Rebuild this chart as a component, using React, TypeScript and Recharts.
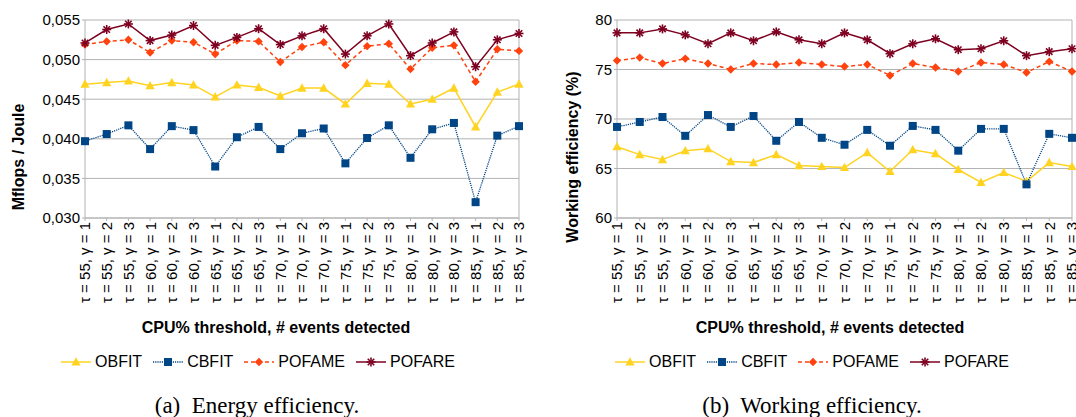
import React from 'react';
import {
  LineChart,
  Line,
  XAxis,
  YAxis,
  CartesianGrid,
  Legend,
  ReferenceLine,
} from 'recharts';

// categories: CPU% threshold (tau) x number of detected events (gamma)
const taus = [55, 60, 65, 70, 75, 80, 85];
const gammas = [1, 2, 3];
const categories = taus.flatMap((t) => gammas.map((g) => `τ = ${t}, γ = ${g}`));

// (a) energy efficiency, Mflops / Joule
const obfitEnergy = [0.0469, 0.0471, 0.0473, 0.0467, 0.0471, 0.0468, 0.0453, 0.0468, 0.0465, 0.0454, 0.0464, 0.0464, 0.0444, 0.0470, 0.0469, 0.0444, 0.0450, 0.0464, 0.0415, 0.0459, 0.0469];
const cbfitEnergy = [0.0397, 0.0406, 0.0417, 0.0387, 0.0416, 0.0411, 0.0365, 0.0402, 0.0415, 0.0387, 0.0407, 0.0413, 0.0369, 0.0401, 0.0417, 0.0376, 0.0412, 0.0420, 0.0320, 0.0404, 0.0416];
const pofameEnergy = [0.0519, 0.0523, 0.0525, 0.0509, 0.0524, 0.0522, 0.0507, 0.0524, 0.0523, 0.0497, 0.0516, 0.0522, 0.0493, 0.0517, 0.0520, 0.0488, 0.0515, 0.0518, 0.0472, 0.0513, 0.0511];
const pofareEnergy = [0.0521, 0.0538, 0.0545, 0.0524, 0.0531, 0.0543, 0.0518, 0.0528, 0.0539, 0.0519, 0.0530, 0.0539, 0.0507, 0.0530, 0.0545, 0.0505, 0.0521, 0.0535, 0.0491, 0.0525, 0.0533];
const energyTicks = [0.03, 0.035, 0.04, 0.045, 0.05, 0.055];

// (b) working efficiency, %
const obfitWork = [67.2, 66.4, 65.9, 66.8, 67.0, 65.7, 65.6, 66.4, 65.3, 65.2, 65.1, 66.6, 64.7, 66.9, 66.5, 64.9, 63.6, 64.6, 63.7, 65.6, 65.2];
const cbfitWork = [69.2, 69.7, 70.2, 68.3, 70.4, 69.2, 70.3, 67.8, 69.7, 68.1, 67.4, 68.9, 67.3, 69.3, 68.9, 66.8, 69.0, 69.0, 63.4, 68.5, 68.1];
const pofameWork = [75.9, 76.2, 75.6, 76.1, 75.6, 75.0, 75.6, 75.5, 75.7, 75.5, 75.3, 75.5, 74.4, 75.6, 75.2, 74.8, 75.7, 75.5, 74.7, 75.8, 74.8];
const pofareWork = [78.7, 78.7, 79.1, 78.5, 77.6, 78.7, 77.9, 78.8, 78.0, 77.6, 78.7, 78.0, 76.6, 77.6, 78.1, 77.0, 77.1, 77.9, 76.4, 76.8, 77.1];
const workTicks = [60, 65, 70, 75, 80];

const FONT = '"Liberation Sans", Arial, sans-serif';
const GRID = '#b3b3b3';

type Marker = 'triangle' | 'square' | 'diamond' | 'star';

const SERIES: Array<{ key: string; name: string; color: string; dash?: string; width: number; marker: Marker }> = [
  { key: 'obfit', name: 'OBFIT', color: '#ffd320', width: 1.5, marker: 'triangle' },
  { key: 'cbfit', name: 'CBFIT', color: '#004586', dash: '1.2 1', width: 1.3, marker: 'square' },
  { key: 'pofame', name: 'POFAME', color: '#ff420e', dash: '4 3', width: 1.5, marker: 'diamond' },
  { key: 'pofare', name: 'POFARE', color: '#7e0021', width: 1.5, marker: 'star' },
];

const buildRows = (values: Record<string, number[]>) =>
  categories.map((label, i) => {
    const row: Record<string, string | number> = { label };
    Object.keys(values).forEach((k) => {
      row[k] = values[k][i];
    });
    return row;
  });

const energyRows = buildRows({ obfit: obfitEnergy, cbfit: cbfitEnergy, pofame: pofameEnergy, pofare: pofareEnergy });
const workRows = buildRows({ obfit: obfitWork, cbfit: cbfitWork, pofame: pofameWork, pofare: pofareWork });

const MarkerShape = ({ cx, cy, type, color }: { cx: number; cy: number; type: Marker; color: string }) => {
  if (cx == null || cy == null) return null;
  switch (type) {
    case 'triangle':
      return <polygon points={`${cx},${cy - 4.8} ${cx - 4.6},${cy + 3.6} ${cx + 4.6},${cy + 3.6}`} fill={color} />;
    case 'square':
      return <rect x={cx - 4} y={cy - 4} width={8} height={8} fill={color} />;
    case 'diamond':
      return <polygon points={`${cx},${cy - 4.2} ${cx + 4.2},${cy} ${cx},${cy + 4.2} ${cx - 4.2},${cy}`} fill={color} />;
    default: {
      const r = 4.5;
      const d = r * 0.72;
      return (
        <g stroke={color} strokeWidth={1.6}>
          <line x1={cx - r} y1={cy} x2={cx + r} y2={cy} />
          <line x1={cx} y1={cy - r} x2={cx} y2={cy + r} />
          <line x1={cx - d} y1={cy - d} x2={cx + d} y2={cy + d} />
          <line x1={cx - d} y1={cy + d} x2={cx + d} y2={cy - d} />
        </g>
      );
    }
  }
};

const CategoryTick = ({ x, y, payload }: any) => (
  <g transform={`translate(${x},${y}) rotate(-90)`}>
    <text x={0} y={0} dy="0.36em" textAnchor="end" fill="#000" fontSize={15} fontFamily={FONT}>
      {payload.value}
    </text>
  </g>
);

const renderLegend = () => (
  <div
    style={{
      display: 'flex',
      justifyContent: 'center',
      alignItems: 'center',
      height: 32,
      fontFamily: FONT,
      fontSize: 16,
      color: '#000',
    }}
  >
    {SERIES.map((s, i) => (
      <div key={s.key} style={{ display: 'flex', alignItems: 'center', marginRight: i < SERIES.length - 1 ? 11 : 0 }}>
        <svg width={30} height={12} style={{ marginRight: 4 }}>
          <line x1={0} y1={6} x2={30} y2={6} stroke={s.color} strokeWidth={s.width} strokeDasharray={s.dash} />
          <MarkerShape cx={15} cy={6} type={s.marker} color={s.color} />
        </svg>
        <span>{s.name}</span>
      </div>
    ))}
  </div>
);

interface EfficiencyChartProps {
  rows: Array<Record<string, string | number>>;
  width: number;
  yTicks: number[];
  yWidth: number;
  rightMargin: number;
  yTitle: string;
  yTitleX: number;
  xTitleX: number;
  legendLeft: number;
  legendWidth: number;
  formatTick: (v: number) => string;
}

const EfficiencyChart: React.FC<EfficiencyChartProps> = ({
  rows,
  width,
  yTicks,
  yWidth,
  rightMargin,
  yTitle,
  yTitleX,
  xTitleX,
  legendLeft,
  legendWidth,
  formatTick,
}) => (
  <LineChart
    width={width}
    height={380}
    data={rows}
    margin={{ top: 20, right: rightMargin, bottom: 0, left: 0 }}
    style={{ fontFamily: FONT }}
  >
    <CartesianGrid stroke={GRID} vertical={false} />
    <XAxis
      dataKey="label"
      scale="point"
      interval={0}
      height={130}
      padding={{ left: 0, right: 0 }}
      axisLine={{ stroke: GRID }}
      tickLine={{ stroke: GRID }}
      tickSize={3}
      tickMargin={1}
      tick={<CategoryTick />}
      label={{
        content: ({ viewBox }: any) => (
          <text
            x={xTitleX}
            y={viewBox.y + 109}
            dy="0.36em"
            textAnchor="middle"
            fontFamily={FONT}
            fontSize={16}
            fontWeight="bold"
            fill="#000"
          >
            CPU% threshold, # events detected
          </text>
        ),
      }}
    />
    <YAxis
      width={yWidth}
      domain={[yTicks[0], yTicks[yTicks.length - 1]]}
      ticks={yTicks}
      tickFormatter={formatTick}
      axisLine={{ stroke: GRID }}
      tickLine={{ stroke: GRID }}
      tickSize={3}
      tickMargin={2}
      tick={{ fill: '#000', fontSize: 15, fontFamily: FONT }}
      label={{
        content: ({ viewBox }: any) => (
          <text
            transform={`translate(${viewBox.x + yTitleX},157) rotate(-90)`}
            dy="0.36em"
            textAnchor="middle"
            fontFamily={FONT}
            fontSize={16}
            fontWeight="bold"
            fill="#000"
          >
            {yTitle}
          </text>
        ),
      }}
    />
    <ReferenceLine x={categories[categories.length - 1]} stroke={GRID} />
    <Legend
      verticalAlign="bottom"
      height={32}
      content={renderLegend}
      wrapperStyle={{ left: legendLeft, width: legendWidth, bottom: 2 }}
    />
    {SERIES.map((s) => (
      <Line
        key={s.key}
        dataKey={s.key}
        name={s.name}
        type="linear"
        stroke={s.color}
        strokeWidth={s.width}
        strokeDasharray={s.dash}
        isAnimationActive={false}
        dot={(p: any) => <MarkerShape key={`${s.key}-${p.index}`} cx={p.cx} cy={p.cy} type={s.marker} color={s.color} />}
        activeDot={false}
      />
    ))}
  </LineChart>
);

const captionStyle: React.CSSProperties = {
  position: 'absolute',
  top: 394,
  fontFamily: '"Liberation Serif", "Times New Roman", serif',
  fontSize: 23,
  lineHeight: '23px',
  textAlign: 'center',
  whiteSpace: 'pre',
  color: '#000',
};

export default function App() {
  return (
    <div style={{ position: 'absolute', left: 0, top: 0, width: 1076, height: 417, overflow: 'hidden', background: '#fff' }}>
      <div style={{ position: 'absolute', left: 0, top: 0 }}>
        <EfficiencyChart
          rows={energyRows}
          width={540}
          yTicks={energyTicks}
          yWidth={85}
          rightMargin={21}
          yTitle="Mflops / Joule"
          yTitleX={18}
          xTitleX={276}
          legendLeft={0}
          legendWidth={516}
          formatTick={(v) => v.toFixed(3).replace('.', ',')}
        />
      </div>
      <div style={{ position: 'absolute', left: 540, top: 0 }}>
        <EfficiencyChart
          rows={workRows}
          width={536}
          yTicks={workTicks}
          yWidth={77}
          rightMargin={4}
          yTitle="Working efficiency (%)"
          yTitleX={32}
          xTitleX={290}
          legendLeft={0}
          legendWidth={544}
          formatTick={(v) => String(v)}
        />
      </div>
      <div style={{ ...captionStyle, left: 0, width: 514 }}>{'(a)  Energy efficiency.'}</div>
      <div style={{ ...captionStyle, left: 540, width: 544 }}>{'(b)  Working efficiency.'}</div>
    </div>
  );
}
